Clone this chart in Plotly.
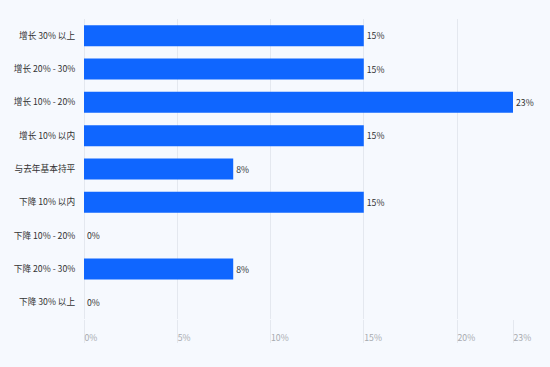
import plotly.graph_objects as go

categories = ["增长 30% 以上", "增长 20% - 30%", "增长 10% - 20%", "增长 10% 以内",
              "与去年基本持平", "下降 10% 以内", "下降 10% - 20%", "下降 20% - 30%", "下降 30% 以上"]
values = [15, 15, 23, 15, 8, 15, 0, 8, 0]
tick_vals = [0, 5, 10, 15, 20, 23]
tick_text = ["0%", "5%", "10%", "15%", "20%", "23%"]

BG = "#F6F9FE"
GRID = "#E4E8EF"
FONT = "Noto Sans CJK SC"

fig = go.Figure(go.Bar(
    y=categories, x=values, orientation="h",
    marker=dict(color="#0F66FF", line=dict(width=0)),
    text=[f"{v}%" for v in values], texttemplate="%{text}", textposition="outside",
    textfont=dict(size=8.7, color="#333333", family=FONT),
    cliponaxis=False,
))

fig.update_layout(
    width=550, height=367,
    margin=dict(l=84, r=37, t=19, b=48),
    paper_bgcolor=BG, plot_bgcolor=BG,
    bargap=0.37,
    showlegend=False,
    font=dict(family=FONT, size=8.7, color="#333333"),
    xaxis=dict(
        range=[0, 23], tickvals=tick_vals, ticktext=tick_text,
        showgrid=True, gridcolor=GRID, gridwidth=1,
        zeroline=True, zerolinecolor=GRID, zerolinewidth=1,
        showline=False, automargin=False,
        ticks="outside", ticklen=23, tickcolor=GRID, tickwidth=1,
        ticklabelposition="outside right", ticklabelstandoff=11,
        tickfont=dict(size=8.7, color="#A8ABB0", family=FONT),
        fixedrange=True,
    ),
    yaxis=dict(
        categoryorder="array", categoryarray=categories, autorange="reversed",
        showgrid=False, zeroline=False, showline=False, automargin=False,
        ticks="outside", ticklen=6, tickcolor="rgba(0,0,0,0)",
        tickfont=dict(size=8.7, color="#333333", family=FONT),
        fixedrange=True,
    ),
)

fig.write_html("out.html", config={"displayModeBar": False},
               post_script="document.body.style.margin='0';document.body.style.background='%s';" % BG)
